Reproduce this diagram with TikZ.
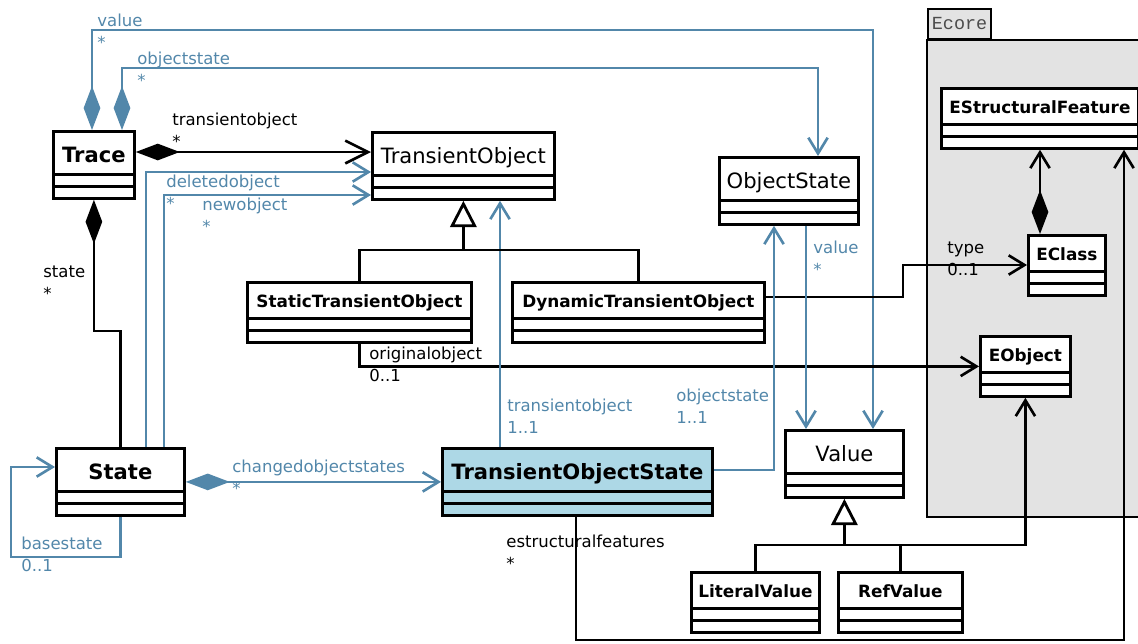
\documentclass[tikz,border=0pt]{standalone}
\usepackage{fontspec}
\setmainfont{DejaVu Sans}
\newfontfamily\pkgfont{Liberation Mono}
\usetikzlibrary{arrows.meta}

\definecolor{umlblue}{RGB}{82,135,170}
\definecolor{stateblue}{RGB}{173,216,230}
\definecolor{pkggray}{RGB}{227,227,227}

\begin{document}
\begin{tikzpicture}[x=0.02cm,y=-0.02cm,
  cls/.style={draw,line width=1.6pt,fill=white,anchor=north west,inner xsep=2pt,inner ysep=0pt,
    text height=0.62cm,text depth=0.72cm,
    path picture={
      \draw[line width=1.6pt] ([yshift=0.48cm]path picture bounding box.south west) -- ([yshift=0.48cm]path picture bounding box.south east);
      \draw[line width=1.6pt] ([yshift=0.24cm]path picture bounding box.south west) -- ([yshift=0.24cm]path picture bounding box.south east);}},
  bigcls/.style={cls,font=\fontsize{12}{14}\selectfont},
  boldcls/.style={cls,font=\fontsize{12}{14}\selectfont\bfseries},
  smallcls/.style={cls,text height=0.5cm,text depth=0.7cm,font=\fontsize{9.6}{11}\selectfont\bfseries},
  link/.style={line width=1.5pt},
  bluelink/.style={link,draw=umlblue},
  navarrow/.style={-{Straight Barb[length=9pt,width=11pt]}},
  comparrow/.style={{Diamond[length=25pt,width=9.5pt]}-{Straight Barb[length=9pt,width=11pt]}},
  inherit/.style={-{Triangle[length=15pt,width=15pt,fill=white]}},
  lbl/.style={anchor=north west,align=left,inner sep=0pt,font=\fontsize{9.4}{12.5}\selectfont},
  bluelbl/.style={lbl,text=umlblue}
]
\useasboundingbox (0,0) rectangle (1138,643);

% Ecore package
\draw[line width=1.6pt,fill=pkggray] (927,40) rectangle (1160,517);
\node[draw,line width=1.2pt,fill=pkggray,anchor=south west,minimum width=1.26cm,minimum height=0.6cm,
  inner sep=1pt,font=\pkgfont\fontsize{10.5}{12}\selectfont,text=black!70] (ecoretab) at (927,40) {Ecore};

% classes
\node[boldcls,minimum width=1.62cm] (trace) at (52,130) {Trace};
\node[bigcls,minimum width=3.64cm] (transientobject) at (371,131) {TransientObject};
\node[bigcls,minimum width=2.78cm] (objectstate) at (718,156) {ObjectState};
\node[smallcls,minimum width=4.48cm] (statictransientobject) at (246,281) {StaticTransientObject};
\node[smallcls,minimum width=5.04cm] (dynamictransientobject) at (511,281) {DynamicTransientObject};
\node[smallcls,minimum width=3.94cm] (estructuralfeature) at (940,87) {EStructuralFeature};
\node[smallcls,minimum width=1.54cm] (eclass) at (1027,234) {EClass};
\node[smallcls,minimum width=1.8cm] (eobject) at (979,335) {EObject};
\node[boldcls,minimum width=2.56cm] (state) at (55,447) {State};
\node[boldcls,fill=stateblue,minimum width=5.4cm] (transientobjectstate) at (441,447) {TransientObjectState};
\node[bigcls,minimum width=2.36cm] (value) at (784,429) {Value};
\node[smallcls,minimum width=2.56cm] (literalvalue) at (690,571) {LiteralValue};
\node[smallcls,minimum width=2.48cm] (refvalue) at (837,571) {RefValue};

% associations
\draw[bluelink,comparrow] (trace.north -| 92,0) |- (873,30) -- (value.north -| 873,0);
\draw[bluelink,comparrow] (trace.north -| 122,0) |- (818,68) -- (objectstate.north -| 818,0);
\draw[link,{Diamond[length=25pt,width=9.5pt]}-{Straight Barb[length=13pt,width=13pt]}]
  (trace.east |- 0,152) -- (transientobject.west |- 0,152);
\draw[bluelink,navarrow] (state.north -| 146,0) |- (transientobject.west |- 0,172);
\draw[bluelink,navarrow] (state.north -| 164,0) |- (transientobject.west |- 0,195);
\draw[link,{Diamond[length=25pt,width=9.5pt]}-] (trace.south) |- (state.north |- 0,331) -- (state.north);
\draw[link,navarrow] (statictransientobject.south) |- (eobject.west);
\draw[link,navarrow] (dynamictransientobject.east |- 0,297) -| (903,265) -- (eclass.west |- 0,265);
\draw[link,comparrow] (eclass.north -| 1040,0) -- (estructuralfeature.south -| 1040,0);
\draw[link,navarrow] (transientobjectstate.south -| 576,0) |- (1124,640) -- (estructuralfeature.south -| 1124,0);
\draw[bluelink,comparrow] (state.east) -- (transientobjectstate.west);
\draw[bluelink,navarrow] (state.south) |- (11,557) |- (state.west |- 0,467);
\draw[bluelink,navarrow] (transientobjectstate.north -| 500,0) -- (transientobject.south -| 500,0);
\draw[bluelink,navarrow] (transientobjectstate.east |- 0,470) -| (objectstate.south -| 774,0);
\draw[bluelink,navarrow] (objectstate.south -| 806,0) -- (value.north -| 806,0);
\draw[link,navarrow] (refvalue.north) |- (eobject.south |- 0,545) -- (eobject.south);

% generalizations
\draw[link,line width=1.6pt] (statictransientobject.north) |- (dynamictransientobject.north |- 0,250) -- (dynamictransientobject.north);
\draw[link,line width=1.6pt,inherit] (transientobject.south |- 0,250) -- (transientobject.south);
\draw[link,line width=1.6pt] (literalvalue.north) |- (refvalue.north |- 0,545) -- (refvalue.north);
\draw[link,line width=1.6pt,inherit] (value.south |- 0,545) -- (value.south);

% role names
\node[bluelbl] (lvalue) at (97,14) {value\\*};
\node[bluelbl] (lobjectstate) at (137,52) {objectstate\\*};
\node[lbl] (ltransientobject) at (172,113) {transientobject\\*};
\node[bluelbl] (ldeletedobject) at (166,175) {deletedobject\\*};
\node[bluelbl] (lnewobject) at (202,198) {newobject\\*};
\node[lbl] (lstate) at (43,266) {state\\*};
\node[lbl] (loriginalobject) at (369,347) {originalobject\\0..1};
\node[lbl] (ltype) at (947,242) {type\\0..1};
\node[bluelbl] (lvalue2) at (813,241) {value\\*};
\node[bluelbl] (ltransientobject2) at (507,399) {transientobject\\1..1};
\node[bluelbl] (lobjectstate2) at (676,389) {objectstate\\1..1};
\node[bluelbl] (lchanged) at (232,460) {changedobjectstates\\*};
\node[bluelbl] (lbasestate) at (21,537) {basestate\\0..1};
\node[lbl] (lestructural) at (506,535) {estructuralfeatures\\*};
\end{tikzpicture}
\end{document}
